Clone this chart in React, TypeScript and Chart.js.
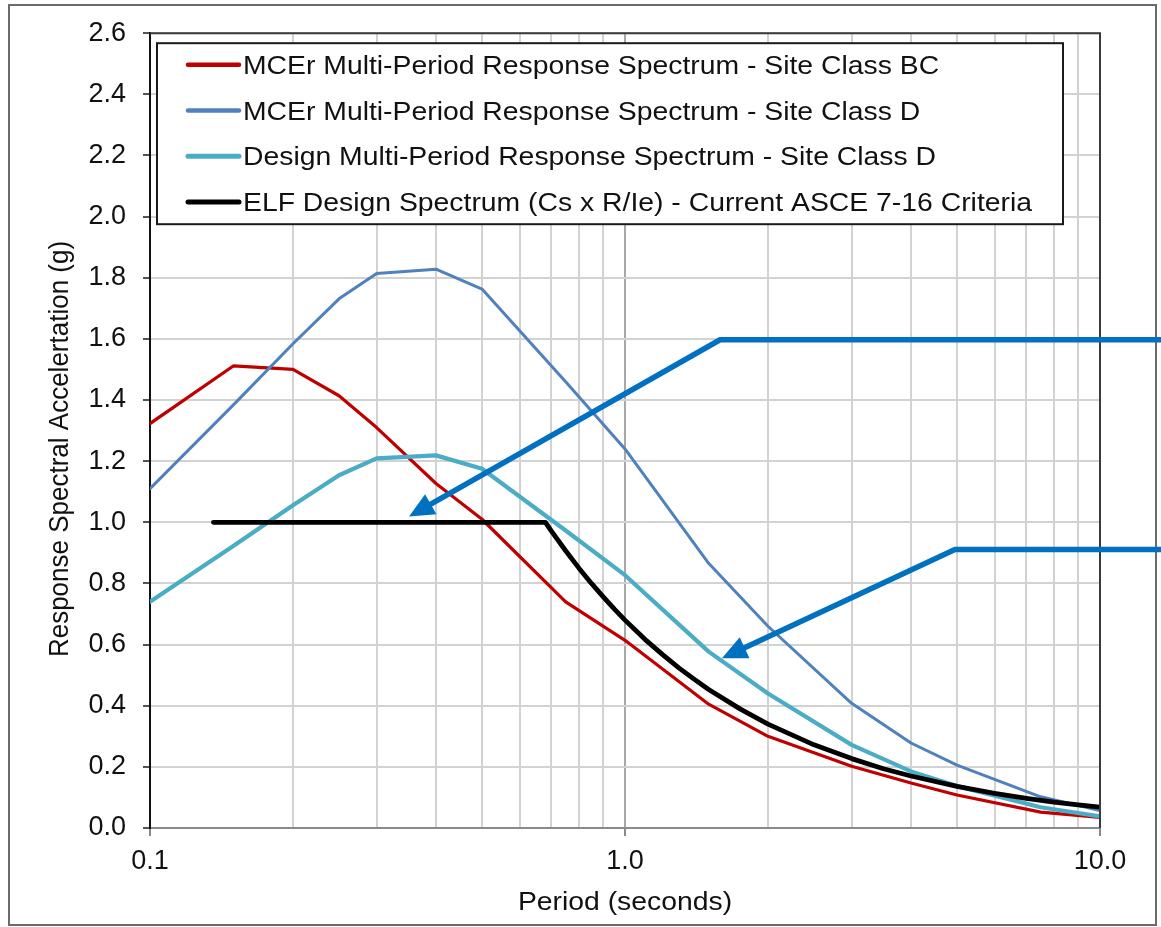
import { useEffect, useRef } from "react";
import { Chart, registerables } from "chart.js";

Chart.register(...registerables);

// Multi-period spectra (period in seconds, spectral acceleration in g)
const PERIODS = [0.1, 0.15, 0.2, 0.25, 0.3, 0.4, 0.5, 0.75, 1, 1.5, 2, 3, 4, 5, 7.5, 10];
const MCER_BC = [1.323, 1.512, 1.5, 1.414, 1.31, 1.127, 1.01, 0.74, 0.614, 0.405, 0.3, 0.202, 0.147, 0.108, 0.052, 0.035];
const MCER_D = [1.11, 1.385, 1.584, 1.731, 1.814, 1.828, 1.763, 1.46, 1.24, 0.866, 0.66, 0.408, 0.278, 0.206, 0.102, 0.057];
const DESIGN_D = [0.74, 0.923, 1.056, 1.154, 1.209, 1.219, 1.175, 0.973, 0.827, 0.577, 0.44, 0.272, 0.185, 0.137, 0.068, 0.038];

// ELF design spectrum (Cs x R/Ie)
const ELF_PERIODS = [0.136, 0.68, 0.7, 0.75, 0.8, 0.85, 0.9, 0.95, 1.0, 1.1, 1.2, 1.3, 1.4, 1.5, 1.75, 2, 2.5, 3, 3.5, 4, 5, 6, 7, 8, 9, 10];
const ELF_VALUES = [1.0, 1.0, 0.971, 0.907, 0.85, 0.8, 0.756, 0.716, 0.68, 0.618, 0.567, 0.523, 0.486, 0.453, 0.389, 0.34, 0.272, 0.227, 0.194, 0.17, 0.136, 0.113, 0.097, 0.085, 0.076, 0.068];

const SERIES_LABELS = [
  "MCEr Multi-Period Response Spectrum - Site Class BC",
  "MCEr Multi-Period Response Spectrum - Site Class D",
  "Design Multi-Period Response Spectrum - Site Class D",
  "ELF Design Spectrum (Cs x R/Ie) - Current ASCE 7-16 Criteria",
];
const SERIES_COLORS = ["#C00000", "#4F81BD", "#4BACC6", "#000000"];

// Log-axis grid values and the ones that carry a label
const X_GRID = [0.1, 0.2, 0.3, 0.4, 0.5, 0.6, 0.7, 0.8, 0.9, 1, 2, 3, 4, 5, 6, 7, 8, 9, 10];
const X_LABELED = [0.1, 1, 10];

const X_TITLE = "Period (seconds)";
const Y_TITLE = "Response Spectral Accelertation (g)";

// Callout arrows: tip and elbow in data units (period, g)
const ARROW_TIPS = [
  { x: 0.351, y: 1.019 },
  { x: 1.6, y: 0.555 },
];
const ARROW_ELBOWS = [
  { x: 1.585, y: 1.597 },
  { x: 4.95, y: 0.911 },
];

const FONT = '"Liberation Sans", Arial, Helvetica, sans-serif';
const TEXT_STRETCH = 1.09;

const decorPlugin = {
  id: "decor",
  beforeDraw(chart: any) {
    const { ctx, width, height } = chart;
    ctx.save();
    ctx.fillStyle = "#ffffff";
    ctx.fillRect(0, 0, width, height);
    ctx.restore();
  },
  afterDraw(chart: any) {
    const { ctx, chartArea: ca, scales, width } = chart;
    const xs = scales.x;
    const ys = scales.y;
    ctx.save();

    // plot frame (top and right edges)
    ctx.strokeStyle = "#3a3a3a";
    ctx.lineWidth = 2;
    ctx.beginPath();
    ctx.moveTo(ca.left, ca.top);
    ctx.lineTo(ca.right, ca.top);
    ctx.lineTo(ca.right, ca.bottom);
    ctx.stroke();

    // outer frame
    ctx.strokeStyle = "#6b6b6b";
    ctx.lineWidth = 2;
    ctx.strokeRect(9, 5, 1147, 920);

    // callout arrows
    const headLen = 25;
    const headHalf = 11.5;
    for (let i = 0; i < ARROW_TIPS.length; i++) {
      const tx = xs.getPixelForValue(ARROW_TIPS[i].x);
      const ty = ys.getPixelForValue(ARROW_TIPS[i].y);
      const ex = xs.getPixelForValue(ARROW_ELBOWS[i].x);
      const ey = ys.getPixelForValue(ARROW_ELBOWS[i].y);
      const dx = tx - ex;
      const dy = ty - ey;
      const len = Math.hypot(dx, dy);
      const ux = dx / len;
      const uy = dy / len;
      const bx = tx - ux * headLen;
      const by = ty - uy * headLen;
      ctx.strokeStyle = "#0070C0";
      ctx.fillStyle = "#0070C0";
      ctx.lineWidth = 5.5;
      ctx.lineJoin = "miter";
      ctx.lineCap = "butt";
      ctx.beginPath();
      ctx.moveTo(width, ey);
      ctx.lineTo(ex, ey);
      ctx.lineTo(bx + ux * 3, by + uy * 3);
      ctx.stroke();
      ctx.beginPath();
      ctx.moveTo(tx, ty);
      ctx.lineTo(bx - uy * headHalf, by + ux * headHalf);
      ctx.lineTo(bx + uy * headHalf, by - ux * headHalf);
      ctx.closePath();
      ctx.fill();
    }

    // legend box inside the plot
    const lx = ca.left + 7;
    const ly = ca.top + 10;
    const lw = 906;
    const lh = 181;
    ctx.fillStyle = "#ffffff";
    ctx.fillRect(lx, ly, lw, lh);
    ctx.strokeStyle = "#1a1a1a";
    ctx.lineWidth = 2;
    ctx.strokeRect(lx, ly, lw, lh);
    ctx.font = `26px ${FONT}`;
    ctx.textAlign = "left";
    ctx.textBaseline = "alphabetic";
    chart.data.datasets.forEach((ds: any, i: number) => {
      const rowY = ly + 21.5 + i * 45.8;
      ctx.strokeStyle = ds.borderColor;
      ctx.lineWidth = i >= 2 ? 5 : 4.5;
      ctx.lineCap = "round";
      ctx.beginPath();
      ctx.moveTo(lx + 31, rowY);
      ctx.lineTo(lx + 82, rowY);
      ctx.stroke();
      ctx.fillStyle = "#111111";
      ctx.save();
      ctx.translate(lx + 86, rowY + 9);
      ctx.scale(TEXT_STRETCH, 1);
      ctx.fillText(ds.label, 0, 0);
      ctx.restore();
    });

    // axis titles
    ctx.fillStyle = "#111111";
    ctx.font = `26px ${FONT}`;
    ctx.textAlign = "center";
    ctx.textBaseline = "alphabetic";
    ctx.save();
    ctx.translate((ca.left + ca.right) / 2, 910);
    ctx.scale(TEXT_STRETCH, 1);
    ctx.fillText(X_TITLE, 0, 0);
    ctx.restore();

    ctx.save();
    ctx.translate(68, 449);
    ctx.scale(TEXT_STRETCH, 1);
    ctx.rotate(-Math.PI / 2);
    ctx.fillText(Y_TITLE, 0, 0);
    ctx.restore();

    ctx.restore();
  },
};

export default function App() {
  const canvasRef = useRef<HTMLCanvasElement>(null);

  useEffect(() => {
    const canvas = canvasRef.current;
    if (!canvas) return;
    const tickFont = { family: FONT, size: 27 };
    const series = [
      { x: PERIODS, y: MCER_BC },
      { x: PERIODS, y: MCER_D },
      { x: PERIODS, y: DESIGN_D },
      { x: ELF_PERIODS, y: ELF_VALUES },
    ];
    const widths = [3.2, 3, 4.2, 4.8];
    const chart = new Chart(canvas, {
      type: "line",
      data: {
        datasets: series.map((s, i) => ({
          label: SERIES_LABELS[i],
          data: s.x.map((x, j) => ({ x, y: s.y[j] })),
          borderColor: SERIES_COLORS[i],
          backgroundColor: SERIES_COLORS[i],
          borderWidth: widths[i],
          pointRadius: 0,
          fill: false,
          tension: 0,
          borderCapStyle: "round",
          borderJoinStyle: "round",
          order: 4 - i,
        })),
      },
      options: {
        responsive: false,
        animation: false,
        devicePixelRatio: 1,
        layout: { padding: { left: 0, right: 61, top: 32, bottom: 0 } },
        plugins: {
          legend: { display: false },
          tooltip: { enabled: false },
          title: { display: false },
        },
        scales: {
          x: {
            type: "logarithmic",
            min: 0.1,
            max: 10,
            afterBuildTicks: (scale: any) => {
              scale.ticks = X_GRID.map((v) => ({ value: v, major: X_LABELED.includes(v) }));
            },
            afterFit: (scale: any) => {
              scale.height = 99;
            },
            ticks: {
              autoSkip: false,
              maxRotation: 0,
              minRotation: 0,
              padding: 9,
              color: "#111111",
              font: tickFont,
              callback: (value: any) => (X_LABELED.includes(Number(value)) ? Number(value).toFixed(1) : ""),
            },
            grid: {
              color: (c: any) => (c.tick && X_LABELED.includes(c.tick.value) ? "#a8a8a8" : "#d2d2d2"),
              lineWidth: 2,
              tickLength: 8,
              tickColor: (c: any) => (c.tick && X_LABELED.includes(c.tick.value) ? "#8a8a8a" : "rgba(0,0,0,0)"),
            },
            border: { color: "#8a8a8a", width: 2 },
          },
          y: {
            type: "linear",
            min: 0,
            max: 2.6,
            afterFit: (scale: any) => {
              scale.width = 150;
            },
            ticks: {
              stepSize: 0.2,
              padding: 17,
              color: "#111111",
              font: tickFont,
              callback: (value: any) => Number(value).toFixed(1),
            },
            grid: {
              color: "#d2d2d2",
              lineWidth: 2,
              tickLength: 7,
              tickColor: "#555555",
            },
            border: { color: "#111111", width: 2 },
          },
        },
      },
      plugins: [decorPlugin],
    } as any);
    return () => chart.destroy();
  }, []);

  return (
    <div style={{ position: "absolute", left: 0, top: 0, width: 1161, height: 927, background: "#ffffff" }}>
      <canvas ref={canvasRef} width={1161} height={927} style={{ display: "block", width: 1161, height: 927 }} />
    </div>
  );
}
